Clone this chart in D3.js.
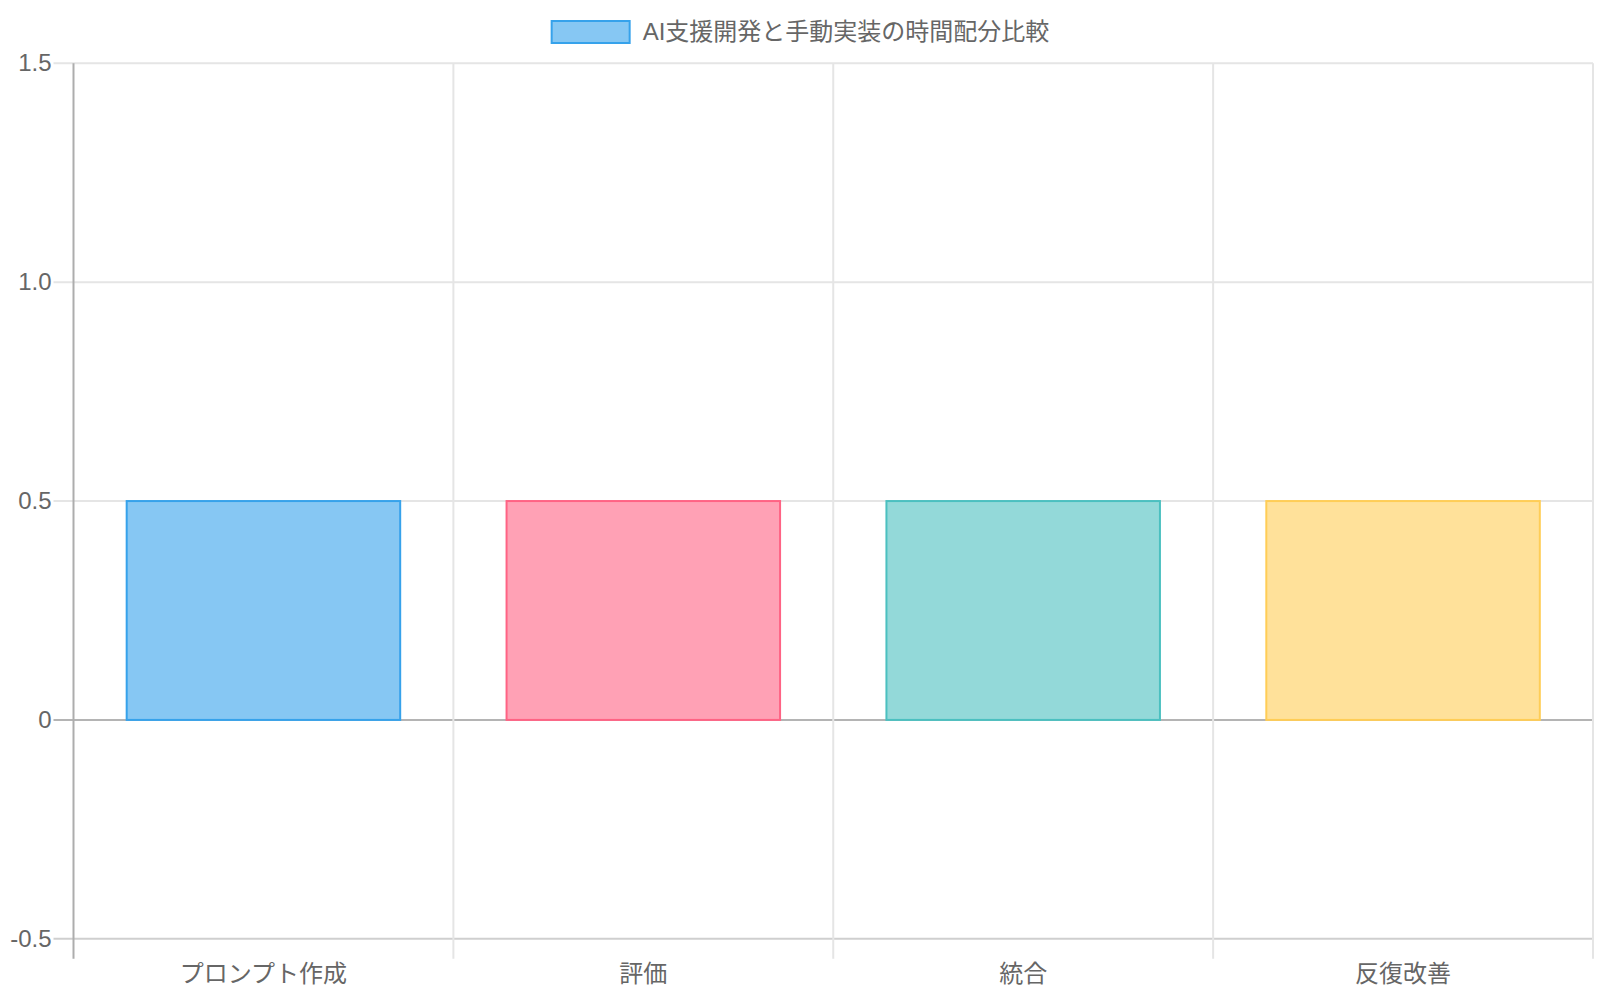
<!DOCTYPE html>
<html>
<head>
<meta charset="utf-8">
<script src="https://cdn.jsdelivr.net/npm/d3@7"></script>
<style>
  body { margin: 0; background: #fff; }
  svg text { font-family: "Liberation Sans", "Noto Sans CJK JP", sans-serif; fill: #666; }
</style>
</head>
<body>
<svg id="chart"></svg>
<script>
// chart data
var categories = ['プロンプト作成', '評価', '統合', '反復改善'];
var values = [0.5, 0.5, 0.5, 0.5];
var seriesName = 'AI支援開発と手動実装の時間配分比較';
var borderColors = ['rgb(54,162,235)', 'rgb(255,99,132)', 'rgb(75,192,192)', 'rgb(255,205,86)'];
var fillColors = ['rgba(54,162,235,0.6)', 'rgba(255,99,132,0.6)', 'rgba(75,192,192,0.6)', 'rgba(255,205,86,0.6)'];
var yTicks = [-0.5, 0, 0.5, 1.0, 1.5];

var W = 1600, H = 1000;
var plotLeft = 73.5, plotRight = 1593, plotTop = 63.3, plotBottom = 938.8;

var svg = d3.select('#chart').attr('width', W).attr('height', H);

var x = d3.scaleBand().domain(categories).range([plotLeft, plotRight]).paddingInner(0).paddingOuter(0);
var y = d3.scaleLinear().domain([-0.5, 1.5]).range([plotBottom, plotTop]);

// plain hyphen for negatives, like the original
var locale = d3.formatLocale({decimal: '.', thousands: ',', grouping: [3], currency: ['', ''], minus: '-'});
var fmt = function (d) { return d === 0 ? '0' : locale.format('.1f')(d); };

// horizontal grid lines
svg.append('g').selectAll('line')
    .data(yTicks)
    .enter()
    .append('line')
    .attr('x1', plotLeft - 20)
    .attr('x2', plotRight)
    .attr('y1', function (d) { return y(d); })
    .attr('y2', function (d) { return y(d); })
    .attr('stroke', function (d) { return d === 0 ? '#b4b4b4' : (d === -0.5 ? '#cfcfcf' : '#e5e5e5'); })
    .attr('stroke-width', 2);

// vertical grid lines at category boundaries
var bounds = categories.map(function (c) { return x(c); }).concat([x.range()[1]]);
svg.append('g').selectAll('line')
    .data(bounds)
    .enter()
    .append('line')
    .attr('x1', function (d) { return d; })
    .attr('x2', function (d) { return d; })
    .attr('y1', plotTop)
    .attr('y2', plotBottom + 20)
    .attr('stroke', function (d, i) { return i === 0 ? '#adadad' : '#e5e5e5'; })
    .attr('stroke-width', 2);

// bars
var bw = x.bandwidth() * 0.72;
svg.append('g').selectAll('rect')
    .data(values)
    .enter()
    .append('rect')
    .attr('x', function (d, i) { return x(categories[i]) + (x.bandwidth() - bw) / 2; })
    .attr('y', function (d) { return y(d); })
    .attr('width', bw)
    .attr('height', function (d) { return y(0) - y(d); })
    .attr('fill', function (d, i) { return fillColors[i]; })
    .attr('stroke', function (d, i) { return borderColors[i]; })
    .attr('stroke-width', 2);

// y axis labels
var yAxis = svg.append('g')
    .attr('transform', 'translate(' + plotLeft + ',0)')
    .call(d3.axisLeft(y).tickValues(yTicks).tickFormat(fmt).tickSize(20).tickPadding(2));
yAxis.select('.domain').remove();
yAxis.selectAll('line').remove();
yAxis.selectAll('text')
    .attr('font-size', 24)
    .attr('font-family', null)
    .style('fill', '#666');

// x axis labels
var xAxis = svg.append('g')
    .attr('transform', 'translate(0,' + (plotBottom + 20) + ')')
    .call(d3.axisBottom(x).tickSize(0).tickPadding(6));
xAxis.select('.domain').remove();
xAxis.selectAll('text')
    .attr('font-size', 24)
    .attr('font-family', null)
    .style('fill', '#666');

// legend
var legend = svg.append('g');
var legendText = legend.append('text')
    .attr('x', 92)
    .attr('y', 32)
    .attr('dy', '0.35em')
    .attr('font-size', 24)
    .text(seriesName);
var tw = legendText.node().getComputedTextLength();
legend.insert('rect', 'text')
    .attr('x', 1)
    .attr('y', 21)
    .attr('width', 78)
    .attr('height', 22)
    .attr('fill', fillColors[0])
    .attr('stroke', borderColors[0])
    .attr('stroke-width', 2);
legend.attr('transform', 'translate(' + (W / 2 - (92 + tw) / 2) + ',0)');
</script>
</body>
</html>
